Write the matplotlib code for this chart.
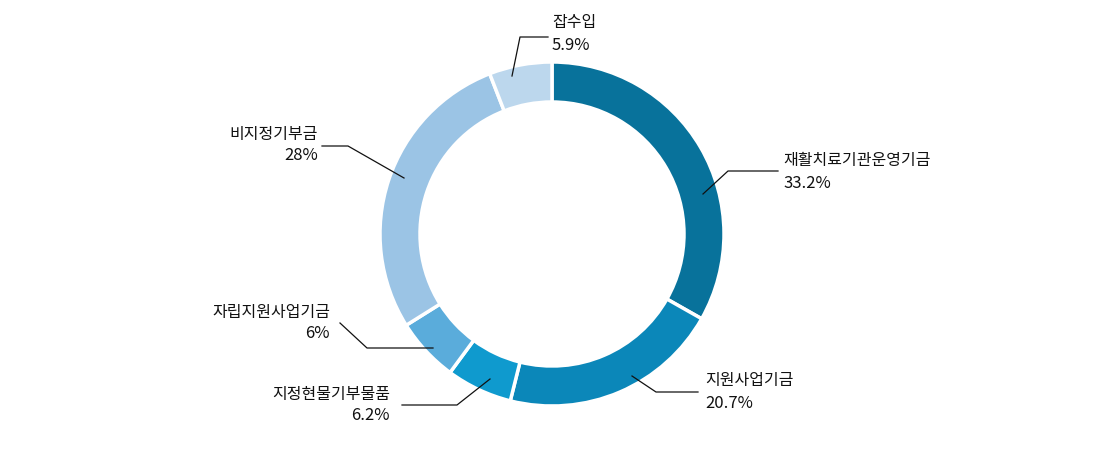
import matplotlib
matplotlib.use('Agg')
import matplotlib.pyplot as plt

plt.rcParams['font.family'] = ['Noto Sans CJK KR', 'DejaVu Sans']

# 데이터
labels = ['재활치료기관운영기금', '지원사업기금', '지정현물기부물품', '자립지원사업기금', '비지정기부금', '잡수입']
values = [33.2, 20.7, 6.2, 6, 28, 5.9]
pct_labels = ['33.2%', '20.7%', '6.2%', '6%', '28%', '5.9%']
colors = ['#08729b', '#0b87b9', '#0f9ace', '#5aacdb', '#9bc4e5', '#bcd7ed']

# 라벨 위치 (픽셀, 위에서부터): 선 시작점, 꺾이는 점, 선 끝, 텍스트 x, 이름 y, 퍼센트 y, 정렬
layout = [
    ((703, 194), (728, 171), (778, 171), 783, 160, 183, 'left'),
    ((632, 376), (656, 392), (698, 392), 705, 381, 403, 'left'),
    ((490, 379), (457, 405), (402, 405), 390, 395, 416, 'right'),
    ((433, 348), (367, 348), (340, 323), 330, 312, 333, 'right'),
    ((404, 178), (348, 146), (322, 146), 318, 134, 156, 'right'),
    ((512, 76), (520, 37), (548, 37), 552, 22, 45, 'left'),
]

W, H = 1104, 457
fig = plt.figure(figsize=(W / 100, H / 100), dpi=100)
ax = fig.add_axes([0, 0, 1, 1])

cx, cy, r = 552, H - 234, 172
ax.pie(values, colors=colors, startangle=90, counterclock=False,
       center=(cx, cy), radius=r,
       wedgeprops=dict(width=40, edgecolor='white', linewidth=2.5))

for (p0, p1, p2, tx, ny, py, ha), name, pct in zip(layout, labels, pct_labels):
    xs = [p0[0], p1[0], p2[0]]
    ys = [H - p0[1], H - p1[1], H - p2[1]]
    ax.plot(xs, ys, color='#111111', linewidth=0.9)
    ax.text(tx, H - ny, name, ha=ha, va='center', fontsize=11.5, color='#111111')
    ax.text(tx, H - py, pct, ha=ha, va='center', fontsize=12, color='#111111')

ax.set_xlim(0, W)
ax.set_ylim(0, H)
ax.set_aspect('equal')
ax.axis('off')

fig.savefig('out.png', dpi=100)
